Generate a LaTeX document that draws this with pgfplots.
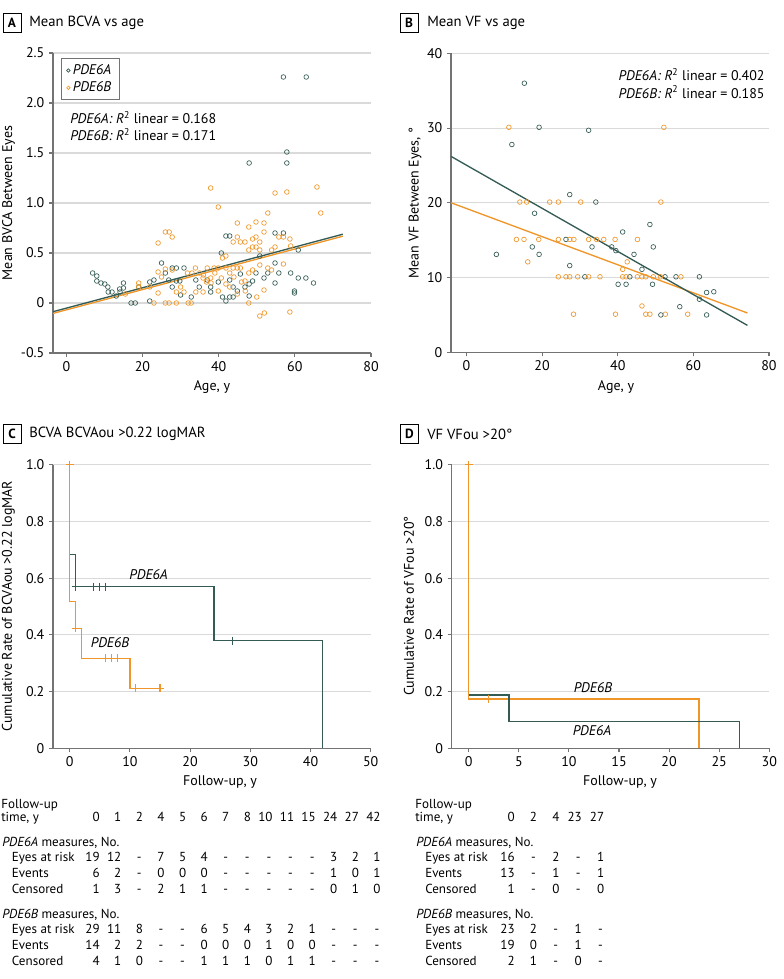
\documentclass[border=0pt]{standalone}
\usepackage{fontspec}
\setmainfont{PT Sans}
\usepackage{pgfplots}
\pgfplotsset{compat=1.18}

\definecolor{pdeA}{RGB}{52,92,84}
\definecolor{pdeB}{RGB}{240,150,40}
\definecolor{gridgray}{RGB}{218,218,218}
\definecolor{axgray}{RGB}{115,115,115}

\newcommand\dash{\hbox to 0.55em{\hss-\hss}}

\pgfplotsset{
  panel/.style={
    scale only axis,
    anchor=south west,
    axis x line*=bottom, axis y line*=left,
    axis line style={-, axgray, line width=0.8pt},
    ymajorgrids, grid style={gridgray, line width=0.8pt},
    tick align=outside, major tick length=3pt,
    tick style={axgray, line width=0.8pt},
    ticklabel style={font=\fontsize{10.5}{12}\selectfont, text=black},
    /pgf/number format/assume math mode=true,
    clip=false,
  },
  dotA/.style={only marks, mark=o, mark size=1.75pt, mark options={pdeA, line width=0.5pt}},
  dotB/.style={only marks, mark=o, mark size=1.75pt, mark options={pdeB, line width=0.5pt}},
  fitA/.style={pdeA, line width=1pt, no marks, forget plot},
  fitB/.style={pdeB, line width=1pt, no marks, forget plot},
  kmA/.style={pdeA, line width=1.1pt, no marks, forget plot},
  kmB/.style={pdeB, line width=1.1pt, no marks, forget plot},
  cenA/.style={only marks, mark=+, mark size=3pt, mark options={pdeA, line width=0.8pt}, forget plot},
  cenB/.style={only marks, mark=+, mark size=3pt, mark options={pdeB, line width=0.8pt}, forget plot},
}

\begin{document}
\begin{tikzpicture}

% ---------------- A: mean BCVA vs age
\begin{axis}[panel,
  at={(53*0.75pt,-353*0.75pt)}, width=238.5pt, height=225pt,
  xmin=-3.5, xmax=80, ymin=-0.5, ymax=2.5,
  xtick={0,20,40,60,80},
  ytick={-0.5,0,0.5,1,1.5,2,2.5},
  yticklabels={-0.5,0,0.5,1.0,1.5,2.0,2.5},
  legend style={at={(0.025,0.983)}, anchor=north west, draw=axgray, line width=0.6pt,
    font=\itshape\fontsize{10.5}{12}\selectfont, inner xsep=4pt, inner ysep=2.5pt, row sep=0pt},
  legend cell align=left,
  legend image code/.code={\draw[#1, mark size=1.3pt] plot coordinates {(0.12cm,0cm)};},
]
\addplot[dotA] coordinates {
 (6.9,0.30)(8.0,0.27)(8.0,0.22)(9.1,0.20)(10.1,0.19)(10.9,0.16)(11.0,0.11)(12.0,0.11)
 (13.1,0.07)(14.0,0.14)(14.1,0.11)(15.0,0.15)(15.0,0.20)(17.0,0.0)(18.1,0.0)(19.0,0.16)
 (21.9,0.21)(21.9,0.02)(23.0,0.23)(25.0,0.40)(26.0,0.30)(26.9,0.23)(27.8,0.35)(27.8,0.16)
 (28.9,0.35)(28.9,0.22)(29.8,0.22)(30.0,0.08)(30.9,0.35)(32.8,0.06)(34.0,0.23)(34.9,0.16)
 (37.0,0.23)(37.9,0.16)(37.9,0.11)(39.9,0.21)(40.7,0.50)(41.0,0.06)(41.9,0.67)(41.9,0.02)
 (42.9,0.67)(42.9,0.23)(42.9,0.06)(43.8,0.16)(43.8,0.06)(44.9,0.12)(45.7,0.29)(46.9,0.16)
 (48.0,0.07)(48.0,0.19)(48.9,0.22)(49.8,0.30)(50.8,0.47)(51.9,0.25)(52.9,0.30)(54.8,0.70)
 (54.8,0.40)(54.8,0.20)(55.8,0.30)(57.0,0.70)(58.9,0.30)(59.9,0.12)(59.9,0.10)(60.9,0.53)
 (60.9,0.25)(62.9,0.25)(64.9,0.20)(57.0,2.26)(63.0,2.26)(48.0,1.40)(57.9,1.51)(57.9,1.40)
};
\addlegendentry{PDE6A}
\addplot[dotB] coordinates {
 (15.5,0.09)(19.0,0.20)(19.0,0.16)(21.9,0.16)(23.0,0.0)(24.1,0.60)(24.1,0.31)(24.1,0.10)
 (25.0,0.26)(26.0,0.71)(26.0,0.34)(26.0,0.0)(27.0,0.71)(27.0,0.0)(27.8,0.66)(27.8,0.33)
 (28.9,0.0)(28.9,0.11)(30.0,0.16)(30.9,0.11)(31.8,0.30)(32.0,0.0)(32.8,0.0)(33.0,0.30)
 (33.9,0.35)(34.0,0.11)(35.0,0.30)(35.9,0.25)(35.9,0.11)(36.8,0.21)(37.0,0.35)(37.9,1.15)
 (37.9,0.25)(38.8,0.35)(39.0,0.30)(39.9,0.96)(39.9,0.35)(39.9,0.12)(40.7,0.25)(41.0,0.45)
 (41.9,0.47)(41.9,0.35)(41.9,0.19)(42.9,0.30)(42.9,0.16)(43.8,0.61)(43.8,0.35)(44.9,0.80)
 (44.9,0.66)(44.9,0.35)(44.9,0.09)(45.7,0.61)(45.7,0.35)(46.9,0.61)(46.9,0.22)(47.9,0.76)
 (47.9,0.53)(47.9,0.0)(47.9,0.30)(48.9,0.64)(48.9,0.56)(48.9,0.33)(49.8,0.81)(49.8,0.66)
 (49.8,0.56)(50.0,0.06)(50.8,0.61)(50.8,0.53)(50.8,0.38)(50.8,-0.13)(51.9,0.80)(51.9,0.71)
 (51.9,0.13)(52.0,-0.10)(52.9,0.90)(52.9,0.35)(53.9,0.53)(53.9,0.33)(54.8,1.10)(54.8,0.56)
 (55.8,0.66)(57.0,0.66)(57.0,0.39)(57.9,1.11)(58.7,0.64)(58.9,0.57)(58.7,-0.09)(65.8,1.16)
 (66.8,0.90)(44.0,0.26)(46.0,0.21)(38.0,0.20)(36.0,0.28)(47.0,0.12)
};
\addlegendentry{PDE6B}
\addplot[fitB] coordinates {(-3.5,-0.104)(72.6,0.668)};
\addplot[fitA] coordinates {(-3.5,-0.087)(72.6,0.688)};
\node[anchor=west, align=left, font=\fontsize{10.5}{13}\selectfont] at (axis cs:-0.2,1.77)
  {\textit{PDE6A: R}\textsuperscript{2} linear = 0.168\\ \textit{PDE6B: R}\textsuperscript{2} linear = 0.171};
\end{axis}

% ---------------- B: mean VF vs age
\begin{axis}[panel,
  at={(451*0.75pt,-352.3*0.75pt)}, width=238.5pt, height=224.25pt,
  xmin=-4.1, xmax=80, ymin=0, ymax=40,
  xtick={0,20,40,60,80}, ytick={0,10,20,30,40},
]
\addplot[dotA] coordinates {
 (15.3,36.0)(19.2,30.1)(12.0,27.8)(32.3,29.7)(27.3,21.1)(34.2,20.1)(18.0,18.6)(7.9,13.1)
 (17.4,14.1)(19.2,13.1)(26.3,15.1)(27.3,11.6)(31.3,10.1)(33.2,14.1)(38.4,14.1)(39.5,13.6)
 (41.3,16.1)(40.1,9.1)(42.2,9.1)(43.2,10.1)(44.3,13.1)(46.4,11.1)(48.5,17.1)(49.4,14.1)
 (49.2,9.1)(51.4,5.0)(52.5,10.1)(55.4,10.1)(56.4,6.1)(61.6,10.1)(61.6,7.1)(63.5,8.0)
 (65.4,8.1)(63.5,5.0)
};
\addplot[dotB] coordinates {
 (11.2,30.1)(52.2,30.1)(14.1,20.1)(15.9,20.1)(22.0,20.1)(24.3,20.1)(30.2,20.1)(51.4,20.1)
 (13.2,15.1)(15.2,15.1)(19.1,15.1)(24.3,15.1)(27.3,15.1)(28.4,15.1)(32.3,15.1)(34.4,15.1)
 (36.3,15.1)(39.3,15.1)(45.2,15.1)(16.2,12.1)(42.5,12.1)(41.3,11.1)
 (24.3,10.1)(26.3,10.1)(27.3,10.1)(29.4,10.1)(32.3,10.1)(35.3,10.1)(41.3,10.1)(42.2,10.1)
 (45.2,10.1)(46.4,10.1)(47.4,10.1)(49.4,10.1)(51.3,10.1)(56.7,10.1)(46.4,6.2)
 (28.3,5.1)(39.4,5.1)(47.4,5.1)(48.5,5.1)(52.6,5.1)(58.5,5.1)
};
\addplot[fitB] coordinates {(-4.06,20.0)(74.3,5.26)};
\addplot[fitA] coordinates {(-4.06,26.2)(74.3,3.6)};
\node[anchor=west, align=left, font=\fontsize{10.5}{13}\selectfont] at (axis cs:39.0,35.96)
  {\textit{PDE6A: R}\textsuperscript{2} linear = 0.402\\ \textit{PDE6B: R}\textsuperscript{2} linear = 0.185};
\end{axis}

% ---------------- C: BCVAou > 0.22 logMAR
\begin{axis}[panel,
  at={(53*0.75pt,-748.3*0.75pt)}, width=238.3pt, height=212.7pt,
  xmin=-2.77, xmax=50, ymin=0, ymax=1,
  xtick={0,10,20,30,40,50},
  ytick={0,0.2,0.4,0.6,0.8,1},
  yticklabels={0,0.2,0.4,0.6,0.8,1.0},
]
\addplot[kmA] coordinates {(0,1)(0,0.684)(1,0.684)(1,0.570)(24,0.570)(24,0.380)(42,0.380)(42,0)};
\addplot[cenA] coordinates {(1,0.570)(4,0.570)(5,0.570)(6,0.570)(27,0.380)};
\addplot[kmB] coordinates {(0,1)(0,0.517)(1,0.517)(1,0.423)(2,0.423)(2,0.317)(10,0.317)(10,0.211)(15,0.211)};
\addplot[cenB] coordinates {(0,1)(1,0.423)(6,0.317)(7,0.317)(8,0.317)(11,0.211)(15,0.211)};
\node[font=\itshape\fontsize{10.5}{12}\selectfont] at (axis cs:13.1,0.614) {PDE6A};
\node[font=\itshape\fontsize{10.5}{12}\selectfont] at (axis cs:6.7,0.373) {PDE6B};
\end{axis}

% ---------------- D: VFou > 20 deg
\begin{axis}[panel,
  at={(451.7*0.75pt,-748.3*0.75pt)}, width=238.2pt, height=212.7pt,
  xmin=-1.7, xmax=30, ymin=0, ymax=1,
  xtick={0,5,10,15,20,25,30},
  ytick={0,0.2,0.4,0.6,0.8,1},
  yticklabels={0,0.2,0.4,0.6,0.8,1.0},
]
\addplot[kmB] coordinates {(0,1)(0,0.174)(23,0.174)(23,0)};
\addplot[kmA] coordinates {(0,0.1875)(4,0.1875)(4,0.094)(27,0.094)(27,0)};
\addplot[cenB] coordinates {(0,1)(2,0.174)};
\node[font=\itshape\fontsize{10.5}{12}\selectfont] at (axis cs:12.4,0.214) {PDE6B};
\node[font=\itshape\fontsize{10.5}{12}\selectfont] at (axis cs:12.3,0.061) {PDE6A};
\end{axis}

% ---------------- titles, axis labels, tables (pixel grid)
\begin{scope}[x=0.75pt,y=-0.75pt]
\useasboundingbox (0,0) rectangle (783,979);
\tikzset{
  pbox/.style={draw, line width=0.6pt, minimum width=13.5pt, minimum height=14.5pt, inner sep=0pt,
    font=\bfseries\fontsize{10}{12}\selectfont},
  ptitle/.style={anchor=west, inner sep=0pt, font=\fontsize{11}{13}\selectfont},
  alab/.style={font=\fontsize{10.5}{12}\selectfont},
  tab/.style={inner sep=0pt, font=\fontsize{9.8}{11}\selectfont},
}
\node[pbox] at (12,23) {A};   \node[ptitle] at (29,23) {Mean BCVA vs age};
\node[pbox] at (409,23) {B};  \node[ptitle] at (427,23) {Mean VF vs age};
\node[pbox] at (12,434) {C};  \node[ptitle] at (29,434) {BCVA BCVAou >0.22 logMAR};
\node[pbox] at (409.5,434) {D}; \node[ptitle] at (427,434) {VF VFou >20°};

\node[alab, rotate=90] at (8.5,203) {Mean BVCA Between Eyes};
\node[alab, rotate=90] at (415,203) {Mean VF Between Eyes, °};
\node[alab, rotate=90] at (8.5,606) {Cumulative Rate of BCVAou >0.22 logMAR};
\node[alab, rotate=90] at (409,606) {Cumulative Rate of VFou >20°};
\node[alab] at (212,387) {Age, y};
\node[alab] at (616,387) {Age, y};
\node[alab] at (220,782) {Follow-up, y};
\node[alab] at (620,782) {Follow-up, y};

% table C
\node[tab, anchor=base west] at (1,808.5) {Follow-up};
\node[tab, anchor=base west] at (1,821.8) {time, y};
\node[tab, anchor=base west] at (2,846) {\textit{PDE6A} measures, No.};
\node[tab, anchor=base west] at (11.7,861.8) {Eyes at risk};
\node[tab, anchor=base west] at (11.7,877.8) {Events};
\node[tab, anchor=base west] at (11.7,893.2) {Censored};
\node[tab, anchor=base west] at (2,918.5) {\textit{PDE6B} measures, No.};
\node[tab, anchor=base west] at (11.7,933.8) {Eyes at risk};
\node[tab, anchor=base west] at (11.7,949.5) {Events};
\node[tab, anchor=base west] at (11.7,965.2) {Censored};
\foreach \row/\yy in {
  {0,1,2,4,5,6,7,8,10,11,15,24,27,42}/821.8,
  {19,12,\dash,7,5,4,\dash,\dash,\dash,\dash,\dash,3,2,1}/861.8,
  {6,2,\dash,0,0,0,\dash,\dash,\dash,\dash,\dash,1,0,1}/877.8,
  {1,3,\dash,2,1,1,\dash,\dash,\dash,\dash,\dash,0,1,0}/893.2,
  {29,11,8,\dash,\dash,6,5,4,3,2,1,\dash,\dash,\dash}/933.8,
  {14,2,2,\dash,\dash,0,0,0,1,0,0,\dash,\dash,\dash}/949.5,
  {4,1,0,\dash,\dash,1,1,1,0,1,1,\dash,\dash,\dash}/965.2}
  \foreach \v [count=\i from 0] in \row
    \node[tab, anchor=base east] at ({100+21.6*\i},\yy) {\v};

% table D
\node[tab, anchor=base west] at (415,808.5) {Follow-up};
\node[tab, anchor=base west] at (415,821.8) {time, y};
\node[tab, anchor=base west] at (416,846) {\textit{PDE6A} measures, No.};
\node[tab, anchor=base west] at (425,861.8) {Eyes at risk};
\node[tab, anchor=base west] at (425,877.8) {Events};
\node[tab, anchor=base west] at (425,893.2) {Censored};
\node[tab, anchor=base west] at (416,918.5) {\textit{PDE6B} measures, No.};
\node[tab, anchor=base west] at (425,933.8) {Eyes at risk};
\node[tab, anchor=base west] at (425,949.5) {Events};
\node[tab, anchor=base west] at (425,965.2) {Censored};
\foreach \row/\yy in {
  {0,2,4,23,27}/821.8,
  {16,\dash,2,\dash,1}/861.8,
  {13,\dash,1,\dash,1}/877.8,
  {1,\dash,0,\dash,0}/893.2,
  {23,2,\dash,1,\dash}/933.8,
  {19,0,\dash,1,\dash}/949.5,
  {2,1,\dash,0,\dash}/965.2}
  \foreach \v [count=\i from 0] in \row
    \node[tab, anchor=base east] at ({515+22.35*\i},\yy) {\v};
\end{scope}

\end{tikzpicture}
\end{document}
